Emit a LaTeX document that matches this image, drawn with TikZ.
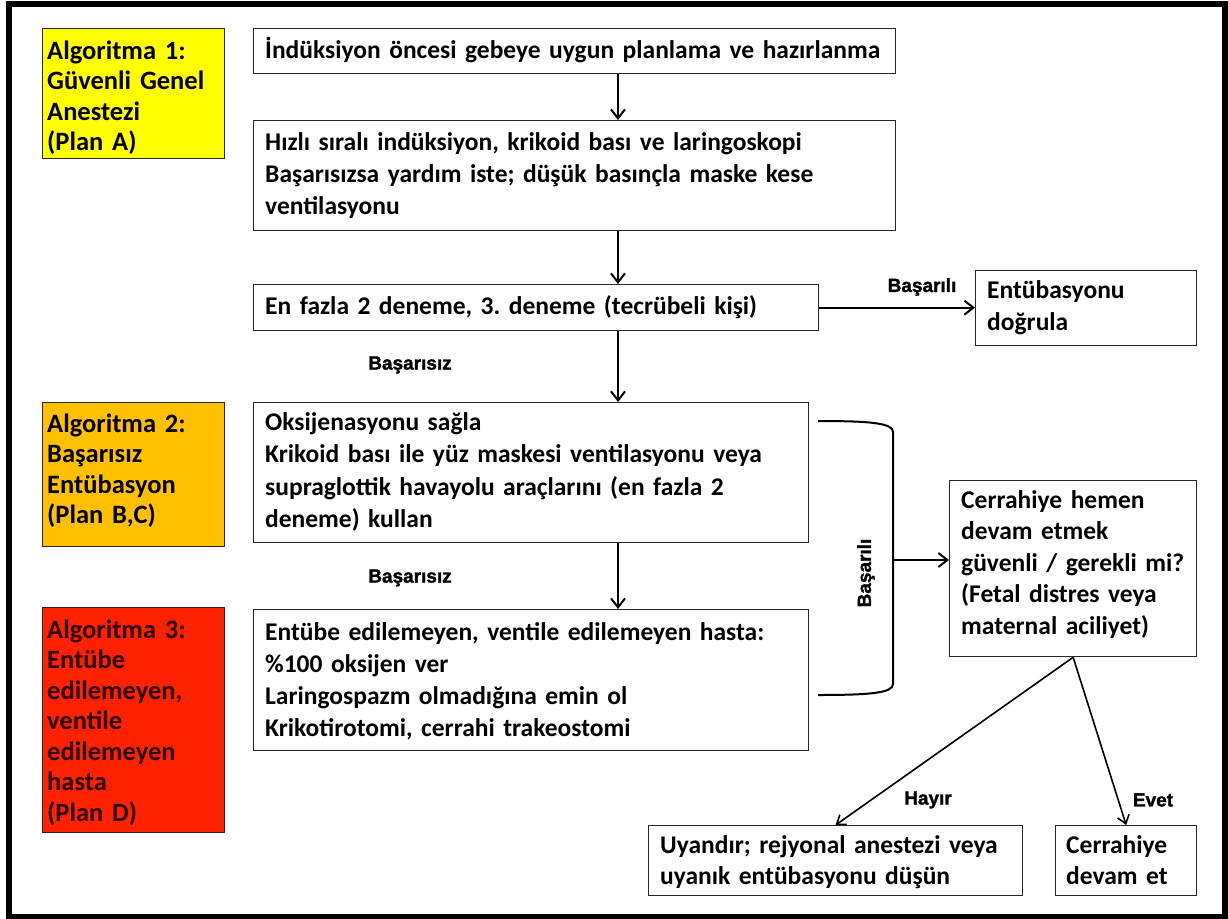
\documentclass[tikz,border=0pt]{standalone}
\usepackage{fontspec}
\setmainfont{Carlito}
\newfontfamily\labfont[BoldFeatures={FakeBold=1.5}]{Liberation Sans}
\usetikzlibrary{arrows.meta}
\definecolor{algyellow}{RGB}{255,255,0}
\definecolor{algorange}{RGB}{255,192,0}
\definecolor{algred}{RGB}{255,34,0}
\definecolor{redtext}{RGB}{45,0,0}
\definecolor{boxline}{RGB}{40,40,40}
\frenchspacing
\begin{document}
\begin{tikzpicture}[x=1pt,y=-1pt,
  box/.style={draw=boxline, line width=1.3pt, anchor=north west, inner sep=0pt},
  txt/.style={anchor=base west, inner sep=0pt, align=left, text width=#1,
    font=\fontsize{25.5}{32}\selectfont\bfseries},
  algtxt/.style={anchor=base west, inner sep=0pt, align=left, text width=180pt,
    font=\fontsize{26.5}{30.5}\selectfont\bfseries},
  lab/.style={inner sep=0pt, font=\labfont\fontsize{19}{19}\selectfont\bfseries},
  arr/.style={line width=2.2pt, -{Straight Barb[length=9pt,width=14pt,line width=2pt]}},
  thinarr/.style={line width=1.6pt, -{Straight Barb[length=8pt,width=12pt,line width=1.6pt]}}
]
\useasboundingbox (0,0) rectangle (1228,918);
\fill[white] (0,0) rectangle (1228,918);
\draw[line width=6pt] (9,4) rectangle (1224.5,916.5);

% algorithm boxes
\node[box, fill=algyellow, minimum width=182pt, minimum height=130pt] (alg1) at (42,28) {};
\node[algtxt] (alg1t) at (47,59) {Algoritma 1:\\Güvenli Genel\\Anestezi\\(Plan A)};
\node[box, fill=algorange, minimum width=182pt, minimum height=144pt] (alg2) at (42,402) {};
\node[algtxt] (alg2t) at (47,432) {Algoritma 2:\\Başarısız\\Entübasyon\\(Plan B,C)};
\node[box, fill=algred, minimum width=182pt, minimum height=225pt] (alg3) at (42,607) {};
\node[algtxt, text=redtext] (alg3t) at (47,638) {Algoritma 3:\\Entübe\\edilemeyen,\\ventile\\edilemeyen\\hasta\\(Plan D)};

% main flow boxes
\node[box, minimum width=642pt, minimum height=45pt] (b1) at (253,28) {};
\node[txt=625pt] (b1t) at (265,58) {İndüksiyon öncesi gebeye uygun planlama ve hazırlanma};
\node[box, minimum width=642pt, minimum height=110pt] (b2) at (253,120) {};
\node[txt=625pt] (b2t) at (265,150) {Hızlı sıralı indüksiyon, krikoid bası ve laringoskopi\\Başarısızsa yardım iste; düşük basınçla maske kese\\ventilasyonu};
\node[box, minimum width=565pt, minimum height=46pt] (b3) at (253,284) {};
\node[txt=545pt] (b3t) at (265,314) {En fazla 2 deneme, 3. deneme (tecrübeli kişi)};
\node[box, minimum width=221pt, minimum height=75pt] (bd) at (975,270) {};
\node[txt=205pt] (bdt) at (987,298) {Entübasyonu\\doğrula};
\node[box, minimum width=555pt, minimum height=140pt] (b4) at (253,402) {};
\node[txt=545pt, font=\fontsize{25.5}{32.5}\selectfont\bfseries] (b4t) at (265,430) {Oksijenasyonu sağla\\Krikoid bası ile yüz maskesi ventilasyonu veya\\supraglottik havayolu araçlarını (en fazla 2\\deneme) kullan};
\node[box, minimum width=555pt, minimum height=141pt] (b5) at (253,609) {};
\node[txt=545pt] (b5t) at (265,640) {Entübe edilemeyen, ventile edilemeyen hasta:\\\%100 oksijen ver\\Laringospazm olmadığına emin ol\\Krikotirotomi, cerrahi trakeostomi};
\node[box, minimum width=247pt, minimum height=176pt] (b6) at (949,480) {};
\node[txt=240pt, font=\fontsize{25.5}{31.5}\selectfont\bfseries] (b6t) at (961,508) {Cerrahiye hemen\\devam etmek\\güvenli / gerekli mi?\\(Fetal distres veya\\maternal aciliyet)};
\node[box, minimum width=374pt, minimum height=70pt] (b7) at (648,825) {};
\node[txt=365pt, font=\fontsize{25.5}{31}\selectfont\bfseries] (b7t) at (660,853) {Uyandır; rejyonal anestezi veya\\uyanık entübasyonu düşün};
\node[box, minimum width=141pt, minimum height=70pt] (b8) at (1055,825) {};
\node[txt=135pt, font=\fontsize{25.5}{31}\selectfont\bfseries] (b8t) at (1066,853) {Cerrahiye\\devam et};

% vertical flow arrows
\coordinate (ax) at (618,0);
\draw[arr] (b1.south -| ax) -- (b2.north -| ax);
\draw[arr] (b2.south -| ax) -- (b3.north -| ax);
\draw[arr] (b3.south -| ax) -- (b4.north -| ax);
\draw[arr] (b4.south -| ax) -- (b5.north -| ax);
\draw[arr] (b3.east) -- (b3.east -| bd.west);

% labels
\node[lab] (l1) at (922,287) {Başarılı};
\node[lab] (l2) at (410,365) {Başarısız};
\node[lab] (l3) at (410,578) {Başarısız};
\node[lab] (l4) at (928,800) {Hayır};
\node[lab] (l5) at (1153,800) {Evet};
\node[lab, rotate=90] (l6) at (866,573) {Başarılı};

% brace
\coordinate (bt) at (818,421);
\coordinate (bb) at (818,695);
\coordinate (bm) at (893,560);
\draw[line width=2pt] (bt) .. controls (870,421) and (893,423) .. (893,432) -- (893,684) .. controls (893,693) and (870,695) .. (bb);
\draw[arr] (bm) -- (bm -| b6.west);

% decision arrows
\draw[thinarr] (b6.south) -- (b7.north);
\draw[thinarr] (b6.south) -- (b8.north);
\end{tikzpicture}
\end{document}
